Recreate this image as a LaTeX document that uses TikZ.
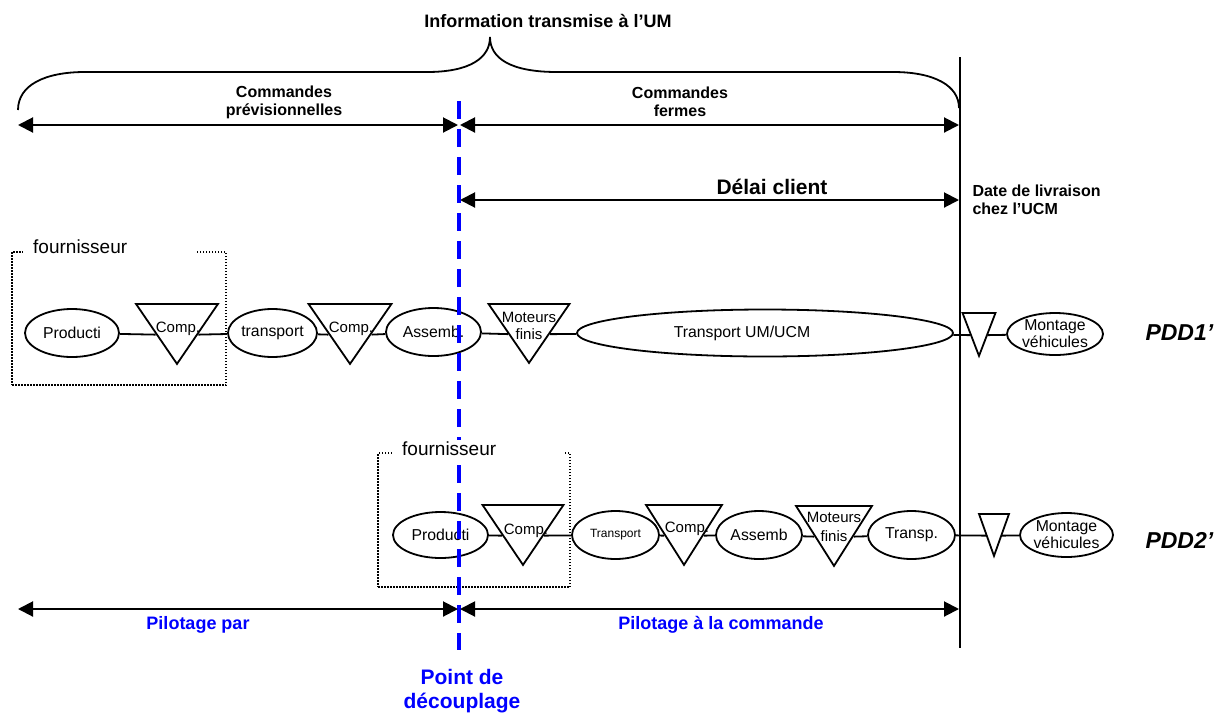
\documentclass[tikz,border=0pt]{standalone}
\usepackage{fontspec}
\setmainfont{Liberation Sans}
\usepackage{xcolor}
\usepackage{tikz}
\usetikzlibrary{shapes.geometric,arrows.meta,positioning}
\definecolor{decblue}{RGB}{0,0,255}
\begin{document}
\begin{tikzpicture}[x=1pt, y=-1pt, >={Triangle[length=15pt,width=15pt]},
  font=\fontsize{15.8}{17}\selectfont,
  proc/.style={ellipse, draw, line width=1.8pt, minimum height=48pt, inner sep=-3pt, align=center},
  tri/.style={isosceles triangle, isosceles triangle stretches, shape border rotate=270, draw, line width=1.8pt, inner sep=0pt, anchor=north},
  tritxt/.style={inner sep=0pt, align=center, font=\fontsize{15}{17}\selectfont},
  link/.style={line width=1.8pt},
  span/.style={<->, line width=2pt},
  head/.style={align=center, font=\bfseries\fontsize{16}{18}\selectfont},
  supbox/.style={draw, line width=1.5pt, dash pattern=on 1.5pt off 1.5pt},
  suplbl/.style={anchor=west, fill=white, text width=153pt, align=left, inner xsep=10pt, inner ysep=2pt, font=\fontsize{19}{21}\selectfont},
  pdd/.style={anchor=west, font=\bfseries\itshape\fontsize{23}{26}\selectfont},
  pil/.style={text=decblue, align=center, font=\bfseries\fontsize{18}{21}\selectfont}]
\useasboundingbox (0,0) rectangle (1219,713);
\node[font=\bfseries\fontsize{18}{21}\selectfont] (info) at (548,21) {Information transmise à l’UM};
\coordinate (bl) at (18,110);
\coordinate (bp) at (490,37);
\coordinate (br) at (959,108);
\draw[line width=1.8pt] (bl) .. controls (18,85) and (45,72) .. (85,72) -- (427,72) .. controls (470,72) and (490,58) .. (bp) .. controls (490,58) and (510,72) .. (557,72) -- (893,72) .. controls (935,72) and (959,86) .. (br);
\node[head] (cprev) at (284,102) {Commandes\\prévisionnelles};
\node[head] (cferm) at (680,102) {Commandes\\fermes};
\coordinate (a0) at (18,125);
\coordinate (a1) at (459,125);
\coordinate (a2) at (959,125);
\draw[span] (a0) -- ([xshift=-1pt]a1);
\draw[span] ([xshift=1pt]a1) -- (a2);
\node[font=\bfseries\fontsize{21}{24}\selectfont] (delai) at (772,187) {Délai client};
\coordinate (d0) at (460,200);
\coordinate (d1) at (959,200);
\draw[span] (d0) -- (d1);
\node[head, align=left, anchor=west] (livr) at (969,200) {Date de livraison\\chez l’UCM};
\coordinate (vtop) at (960,57);
\coordinate (vbot) at (960,648);
\draw[line width=1.8pt] (vtop) -- (vbot);
\node[supbox, minimum width=214pt, minimum height=133pt] (f1) at (119,318.5) {};
\node[supbox, minimum width=192pt, minimum height=134pt] (f2) at (474,520) {};
\node[proc, minimum width=94pt] (p1) at (72,333) {Producti};
\node[tri, minimum width=82pt, minimum height=60pt] (c1) at (177,303) {};
\node[tritxt] (c1t) at (178,329) {Comp.};
\node[proc, minimum width=89pt] (t1) at (272.5,333) {transport};
\node[tri, minimum width=83pt, minimum height=60pt] (c2) at (350,303) {};
\node[tritxt] (c2t) at (351,329) {Comp.};
\node[proc, minimum width=95pt] (a1n) at (433.5,332) {Assemb.};
\node[tri, minimum width=81pt, minimum height=59pt] (m1) at (529,303) {};
\node[tritxt] (m1t) at (529,326) {Moteurs\\finis};
\node[proc, minimum width=376pt, minimum height=47pt, label={[xshift=-23pt]center:Transport UM/UCM}] (u1) at (765,333) {};
\node[tri, minimum width=33pt, minimum height=43pt] (s1) at (979,312) {};
\node[proc, minimum width=96pt, minimum height=42pt] (v1) at (1055,334) {Montage\\véhicules};
\node[pdd] (pdd1) at (1142,333) {PDD1’};
\draw[link] (p1) -- (c1.right side);
\draw[link] (c1.left side) -- (t1);
\draw[link] (t1) -- (c2.right side);
\draw[link] (c2.left side) -- (a1n);
\draw[link] (a1n) -- (m1.right side);
\draw[link] (m1.left side) -- (u1);
\draw[link] (u1) -- (s1.right side);
\draw[link] (s1.left side) -- (v1);
\node[proc, minimum width=95pt, minimum height=46pt] (p2) at (440.5,535) {Producti};
\node[tri, minimum width=81pt, minimum height=60pt] (c3) at (523,504) {};
\node[tritxt] (c3t) at (526,531) {Comp.};
\node[proc, minimum width=87pt, font=\fontsize{12}{14}\selectfont] (t2) at (615.5,535) {Transport};
\node[tri, minimum width=76pt, minimum height=60pt] (c4) at (684,504) {};
\node[tritxt] (c4t) at (687,529) {Comp.};
\node[proc, minimum width=86pt] (a2n) at (759,535) {Assemb};
\node[tri, minimum width=76pt, minimum height=60pt] (m2) at (834,505) {};
\node[tritxt, font=\fontsize{15}{19}\selectfont] (m2t) at (834,527) {Moteurs\\finis};
\node[proc, minimum width=87pt] (r2) at (911.5,535) {Transp.};
\node[tri, minimum width=30pt, minimum height=42pt] (s2) at (994,513) {};
\node[proc, minimum width=93pt, minimum height=44pt] (v2) at (1066.5,535) {Montage\\véhicules};
\node[pdd] (pdd2) at (1142,540) {PDD2’};
\draw[link] (p2) -- (c3.right side);
\draw[link] (c3.left side) -- (t2);
\draw[link] (t2) -- (c4.right side);
\draw[link] (c4.left side) -- (a2n);
\draw[link] (a2n) -- (m2.right side);
\draw[link] (m2.left side) -- (r2);
\draw[link] (r2) -- (s2.right side);
\draw[link] (s2.left side) -- (v2);
\coordinate (dtop) at (459,101);
\coordinate (dbot) at (459,650);
\draw[decblue, line width=3.2pt, dash pattern=on 18pt off 10pt] (dtop) -- (dbot);
\node[suplbl] (f1l) at (23,247) {fournisseur};
\node[suplbl] (f2l) at (392,449) {fournisseur};
\coordinate (b0) at (18,609);
\coordinate (b1) at (459,609);
\coordinate (b2) at (959,609);
\draw[span] (b0) -- ([xshift=-1pt]b1);
\draw[span] ([xshift=1pt]b1) -- (b2);
\node[pil] (pmts) at (198,625) {Pilotage par};
\node[pil] (pcmd) at (721,625) {Pilotage à la commande};
\node[pil, font=\bfseries\fontsize{21}{24}\selectfont] (pdec) at (462,691) {Point de\\découplage};
\end{tikzpicture}
\end{document}
